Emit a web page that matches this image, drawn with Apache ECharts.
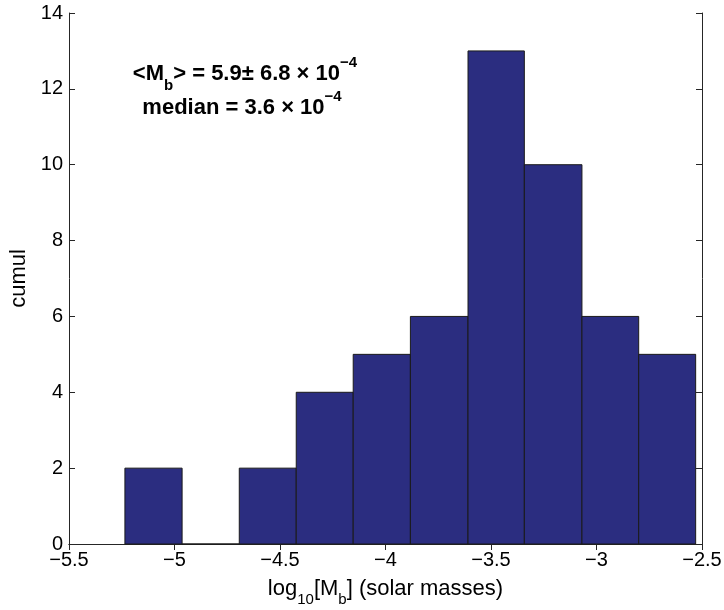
<!DOCTYPE html>
<html>
<head>
<meta charset="utf-8">
<script src="https://cdn.jsdelivr.net/npm/echarts@6/dist/echarts.min.js"></script>
<style>html,body{margin:0;padding:0;background:#fff}#c{width:724px;height:610px}</style>
</head>
<body>
<div id="c"></div>
<script>
// Histogram bins (left/right edges in log10 solar masses) and counts
const binLeft  = [-5.235, -4.964, -4.693, -4.423, -4.153, -3.882, -3.609, -3.342, -3.069, -2.800];
const binRight = [-4.964, -4.693, -4.423, -4.153, -3.882, -3.609, -3.342, -3.069, -2.800, -2.530];
const counts   = [2, 0, 2, 4, 5, 6, 13, 10, 6, 5];
const yTicks = [0, 2, 4, 6, 8, 10, 12, 14];
const xTicks = [-5.5, -5, -4.5, -4, -3.5, -3, -2.5];

const FONT = 'Liberation Sans, Arial, Helvetica, sans-serif';
const AX = '#262626';
const fmtMinus = v => String(v).replace('-', '\u2212');

const chart = echarts.init(document.getElementById('c'), null, {renderer: 'canvas'});
const data = counts.map((c, i) => [binLeft[i], binRight[i], c]);

const frameAxis = {
  axisLine: {show: true, lineStyle: {color: AX, width: 1}},
  axisTick: {show: true, inside: true, length: 6, lineStyle: {color: AX}},
  splitLine: {show: false}
};

chart.setOption({
  animation: false,
  backgroundColor: '#fff',
  grid: {left: 69, right: 22, top: 13, bottom: 66, containLabel: false, outerBoundsMode: 'none'},
  xAxis: [
    Object.assign({}, frameAxis, {
      type: 'value', position: 'bottom', min: -5.5, max: -2.5, interval: 0.5,
      axisLabel: {color: '#000', fontFamily: FONT, fontSize: 20, margin: 6, formatter: fmtMinus},
      name: '{n|log}{s|10}{n|[M}{s|b}{n|] (solar masses)}',
      nameLocation: 'middle', nameGap: 32,
      nameTextStyle: {
        fontFamily: FONT, fontSize: 22, color: '#000',
        rich: {
          n: {fontFamily: FONT, fontSize: 22, color: '#000', lineHeight: 26},
          s: {fontFamily: FONT, fontSize: 15, color: '#000', verticalAlign: 'bottom', height: 4}
        }
      }
    }),
    Object.assign({}, frameAxis, {
      type: 'value', position: 'top', min: -5.5, max: -2.5, interval: 0.5,
      axisLabel: {show: false}
    })
  ],
  yAxis: [
    Object.assign({}, frameAxis, {
      type: 'value', position: 'left', min: 0, max: 14, interval: 2,
      axisLabel: {color: '#000', fontFamily: FONT, fontSize: 20, margin: 6},
      name: 'cumul', nameLocation: 'middle', nameGap: 29, nameRotate: 90,
      nameTextStyle: {fontFamily: FONT, fontSize: 22, color: '#000'}
    }),
    Object.assign({}, frameAxis, {
      type: 'value', position: 'right', min: 0, max: 14, interval: 2,
      axisLabel: {show: false}
    })
  ],
  series: [{
    type: 'custom',
    xAxisIndex: 0, yAxisIndex: 0,
    data: data,
    encode: {x: [0, 1], y: 2},
    renderItem: function (params, api) {
      const p0 = api.coord([api.value(0), 0]);
      const p1 = api.coord([api.value(1), api.value(2)]);
      return {
        type: 'rect',
        shape: {x: p0[0], y: p1[1], width: p1[0] - p0[0], height: p0[1] - p1[1]},
        style: {fill: '#2b2d80', stroke: '#1a1a1a', lineWidth: 1}
      };
    }
  }],
  graphic: [
    {
      type: 'text', z: 10,
      style: {
        x: 245, y: 74, align: 'center', verticalAlign: 'middle',
        text: '{n|<M}{s|b}{n|> = 5.9\u00B1 6.8 \u00D7 10}{p|\u22124}',
        rich: {
          n: {fontFamily: FONT, fontSize: 22, fontWeight: 'bold', fill: '#000', lineHeight: 28},
          s: {fontFamily: FONT, fontSize: 15, fontWeight: 'bold', fill: '#000', verticalAlign: 'bottom', height: 4},
          p: {fontFamily: FONT, fontSize: 15, fontWeight: 'bold', fill: '#000', verticalAlign: 'top', height: 6}
        }
      }
    },
    {
      type: 'text', z: 10,
      style: {
        x: 242, y: 108, align: 'center', verticalAlign: 'middle',
        text: '{n|median = 3.6 \u00D7 10}{p|\u22124}',
        rich: {
          n: {fontFamily: FONT, fontSize: 22, fontWeight: 'bold', fill: '#000', lineHeight: 28},
          p: {fontFamily: FONT, fontSize: 15, fontWeight: 'bold', fill: '#000', verticalAlign: 'top', height: 6}
        }
      }
    }
  ]
});
</script>
</body>
</html>
